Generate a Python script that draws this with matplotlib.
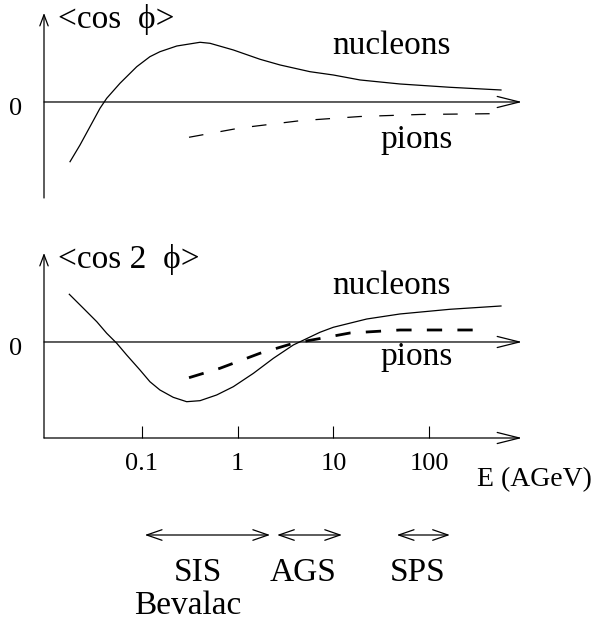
#!/usr/bin/env python
"""
  Sketch of the beam energy dependence of directed (<cos phi>) and
  elliptic (<cos 2 phi>) flow for nucleons and pions, with the energy
  ranges of the SIS/Bevalac, AGS and SPS accelerators.
"""
import matplotlib
matplotlib.use("Agg")
import matplotlib.pyplot as plt

# ---- data (E in AGeV, flow in arbitrary units) ----
v1_nucl_E = [0.0177, 0.0225, 0.0286, 0.0364, 0.0428, 0.0589, 0.0881, 0.121,
             0.154, 0.231, 0.404, 0.514, 0.900, 1.71, 2.77, 5.69, 9.98,
             19.0, 49.7, 165, 564]
v1_nucl_y = [-0.995, -0.717, -0.412, -0.105, 0.062, 0.312, 0.588, 0.755,
             0.838, 0.933, 0.995, 0.978, 0.867, 0.712, 0.617, 0.505, 0.45,
             0.367, 0.30, 0.245, 0.20]

v1_pion_E = [0.310, 1.06, 4.48, 19.0, 80.4, 454]
v1_pion_y = [-0.588, -0.433, -0.312, -0.242, -0.208, -0.195]

v2_nucl_E = [0.0174, 0.0244, 0.0337, 0.0428, 0.0545, 0.0692, 0.0953, 0.121,
             0.154, 0.212, 0.293, 0.404, 0.603, 0.900, 1.46, 2.36, 3.81,
             7.24, 9.98, 22.3, 49.7, 165, 564]
v2_nucl_y = [0.795, 0.562, 0.338, 0.145, -0.022, -0.217, -0.467, -0.662,
             -0.80, -0.922, -0.995, -0.978, -0.883, -0.745, -0.522, -0.272,
             -0.05, 0.162, 0.245, 0.383, 0.467, 0.545, 0.60]

v2_pion_E = [0.310, 0.653, 1.71, 3.81, 7.24, 14.9, 49.7, 400]
v2_pion_y = [-0.595, -0.438, -0.188, -0.022, 0.058, 0.15, 0.20, 0.20]

tick_E = [0.1, 1, 10, 100]
tick_labels = ["0.1", "1", "10", "100"]

# accelerator energy ranges (AGeV)
acc_names = ["SIS", "AGS", "SPS"]
acc_lo = [0.107, 2.58, 46.0]
acc_hi = [2.18, 12.3, 165.0]

plt.rcParams["font.family"] = ["Liberation Serif", "DejaVu Serif"]
plt.rcParams["lines.scale_dashes"] = False

XMIN, XMAX = 10**-2.024, 10**2.971
YMIN, YMAX = -1.6, 1.483
FH = 622.0


def arrow(ax, start, end, style="->", hl=16.0, hw=4.0, lw=0.9, **kw):
    ax.annotate("", xy=end, xytext=start, annotation_clip=False,
                arrowprops=dict(arrowstyle="%s,head_length=1.0,head_width=%g" % (style, hw / hl),
                                mutation_scale=hl, lw=lw, color="black",
                                shrinkA=0, shrinkB=0), **kw)


def panel(ax, label, nE, ny, pE, py, thick):
    ax.set_xscale("log")
    ax.set_xlim(XMIN, XMAX)
    ax.set_ylim(YMIN, YMAX)
    for s in ax.spines.values():
        s.set_visible(False)
    ax.patch.set_visible(False)

    # y axis and zero line
    arrow(ax, (XMIN, YMIN), (XMIN, YMAX), hl=8.0, hw=3.0)
    arrow(ax, (XMIN, 0), (XMAX, 0))

    ax.plot(nE, ny, color="black", lw=0.9)
    if thick:
        ax.plot(pE, py, color="black", lw=2.0, dashes=(11, 11))
    else:
        ax.plot(pE, py, color="black", lw=0.9, dashes=(10.5, 12.5))

    ax.text(0.01324, 1.233, label, fontsize=24, ha="left", va="baseline")
    ax.text(0.00482, -0.217, "0", fontsize=19, ha="center", va="baseline")
    ax.text(40.9, 0.8, "nucleons", fontsize=24, ha="center", va="baseline")


def main():
    fig = plt.figure(figsize=(5.98, 6.22), dpi=100)
    left, width = 44 / 598.0, 478 / 598.0
    h = 185 / FH
    ax1 = fig.add_axes([left, (FH - 198) / FH, width, h])
    ax2 = fig.add_axes([left, (FH - 438) / FH, width, h])

    # Top: directed flow
    panel(ax1, "<cos  \u03d5>", v1_nucl_E, v1_nucl_y, v1_pion_E, v1_pion_y, False)
    ax1.text(74.7, -0.767, "pions", fontsize=24, ha="center", va="baseline")
    ax1.set_xticks([])
    ax1.set_yticks([])
    ax1.minorticks_off()

    # Bottom: elliptic flow
    panel(ax2, "<cos 2  \u03d5>", v2_nucl_E, v2_nucl_y, v2_pion_E, v2_pion_y, True)
    ax2.text(74.7, -0.383, "pions", fontsize=24, ha="center", va="baseline")
    arrow(ax2, (XMIN, YMIN), (XMAX, YMIN))
    ax2.set_yticks([])
    ax2.set_xticks(tick_E, tick_labels)
    ax2.minorticks_off()
    ax2.tick_params(axis="x", direction="in", length=8.6, width=0.8,
                    pad=11, labelsize=19)
    ax2.text(316, -2.4, "E (AGeV)", fontsize=20, ha="left", va="baseline")

    # accelerator ranges
    for name, lo, hi in zip(acc_names, acc_lo, acc_hi):
        arrow(ax2, (lo, FH - 535), (hi, FH - 535), style="<->", hl=11.0, hw=3.8,
              xycoords=("data", "figure pixels"), textcoords=("data", "figure pixels"))
    for name, x in zip(acc_names, [198, 303, 418]):
        fig.text(x / 598.0, (FH - 581) / FH, name, fontsize=24, ha="center", va="baseline")
    fig.text(188 / 598.0, (FH - 614) / FH, "Bevalac", fontsize=24, ha="center", va="baseline")

    fig.savefig("out.png", dpi=100)


if __name__ == "__main__":
    main()
